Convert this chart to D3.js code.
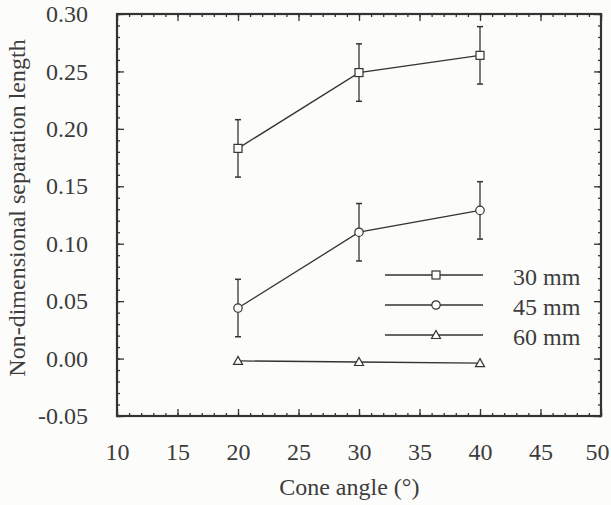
<!DOCTYPE html>
<html>
<head>
<meta charset="utf-8">
<script src="https://cdn.jsdelivr.net/npm/d3@7"></script>
</head>
<body style="margin:0;background:#fcfcfa">
<script>
// data
var angles = [20, 30, 40];
var len30 = [0.183, 0.249, 0.264];
var err30 = [0.025, 0.025, 0.025];
var len45 = [0.044, 0.110, 0.129];
var err45 = [0.025, 0.025, 0.025];
var len60 = [-0.002, -0.003, -0.004];
var seriesNames = ["30 mm", "45 mm", "60 mm"];
var xTicks = [10, 15, 20, 25, 30, 35, 40, 45, 50];
var yTicks = [-0.05, 0.00, 0.05, 0.10, 0.15, 0.20, 0.25, 0.30];

var W = 611, H = 505;
var margin = {top: 14, right: 10, bottom: 89, left: 117},
    width = W - margin.left - margin.right,
    height = H - margin.top - margin.bottom;

var x = d3.scaleLinear().domain([10, 50]).range([0, width]);
var y = d3.scaleLinear().domain([-0.05, 0.30]).range([height, 0]);

var ink = "#333";
var fontName = "Liberation Serif";

var root = d3.select("body").append("svg")
    .attr("width", W)
    .attr("height", H);

var svg = root.append("g")
    .attr("transform", "translate(" + margin.left + "," + margin.top + ")");

// minor ticks
var xMinor = d3.range(10, 50.5, 1);
var yMinor = d3.range(-5, 30.5, 1).map(function(d) { return d / 100; });

function tickAxis(axis, vals, size, labels) {
  var a = axis.tickValues(vals).tickSize(size);
  if (!labels) a.tickFormat("");
  return a;
}

svg.append("g").attr("transform", "translate(0," + height + ")")
    .call(tickAxis(d3.axisBottom(x), xMinor, -3, false));
svg.append("g")
    .call(tickAxis(d3.axisTop(x), xMinor, -3, false));
svg.append("g")
    .call(tickAxis(d3.axisLeft(y), yMinor, -3, false));
svg.append("g").attr("transform", "translate(" + width + ",0)")
    .call(tickAxis(d3.axisRight(y), yMinor, -3, false));

// major ticks with labels
svg.append("g").attr("class", "xaxis").attr("transform", "translate(0," + height + ")")
    .call(d3.axisBottom(x).tickValues(xTicks).tickSize(-7).tickPadding(27)
      .tickFormat(function(d) { return d; }));
svg.append("g").attr("class", "yaxis")
    .call(d3.axisLeft(y).tickValues(yTicks).tickSize(-7).tickPadding(29)
      .tickFormat(function(d) { return d.toFixed(2); }));
svg.append("g")
    .call(tickAxis(d3.axisTop(x), xTicks, -7, false));
svg.append("g").attr("transform", "translate(" + width + ",0)")
    .call(tickAxis(d3.axisRight(y), yTicks, -7, false));

svg.selectAll(".domain").remove();
svg.selectAll(".tick line").attr("stroke", ink).attr("stroke-width", 1.3);
svg.selectAll("g").attr("font-family", null).attr("font-size", null);
// the last x label sits at the picture's edge
svg.selectAll(".xaxis .tick text").filter(function(d) { return d === 50; }).attr("dx", -4);

// frame
svg.append("rect")
    .attr("width", width)
    .attr("height", height)
    .attr("fill", "none")
    .attr("stroke", ink)
    .attr("stroke-width", 2.2);

// axis titles
svg.append("text")
    .attr("x", x(29.2))
    .attr("y", height + 79)
    .attr("text-anchor", "middle")
    .text("Cone angle (°)");

svg.append("text")
    .attr("transform", "rotate(-90)")
    .attr("x", -194)
    .attr("y", -92)
    .attr("text-anchor", "middle")
    .text("Non-dimensional separation length");

// series
var series = [
  {name: seriesNames[0], vals: len30, err: err30, shape: "square"},
  {name: seriesNames[1], vals: len45, err: err45, shape: "circle"},
  {name: seriesNames[2], vals: len60, err: null, shape: "triangle"}
];

var line = d3.line()
    .x(function(d) { return x(d[0]); })
    .y(function(d) { return y(d[1]); });

function drawMarker(g, shape, cx, cy) {
  if (shape === "square") {
    g.append("rect").attr("x", cx - 4).attr("y", cy - 4).attr("width", 8).attr("height", 8);
  } else if (shape === "circle") {
    g.append("circle").attr("cx", cx).attr("cy", cy).attr("r", 4.2);
  } else {
    g.append("path").attr("d", "M" + cx + "," + (cy - 4.5) + "L" + (cx + 4.5) + "," + (cy + 3.5) + "L" + (cx - 4.5) + "," + (cy + 3.5) + "Z");
  }
}

series.forEach(function(s) {
  var pts = angles.map(function(a, i) { return [a, s.vals[i]]; });
  var g = svg.append("g");

  if (s.err) {
    angles.forEach(function(a, i) {
      var hi = y(s.vals[i] + s.err[i]), lo = y(s.vals[i] - s.err[i]), cx = x(a);
      g.append("line").attr("x1", cx).attr("x2", cx).attr("y1", hi).attr("y2", lo)
          .attr("stroke", ink).attr("stroke-width", 1.3);
      [hi, lo].forEach(function(yy) {
        g.append("line").attr("x1", cx - 3).attr("x2", cx + 3).attr("y1", yy).attr("y2", yy)
            .attr("stroke", ink).attr("stroke-width", 1.5);
      });
    });
  }

  g.append("path")
      .datum(pts)
      .attr("d", line)
      .attr("fill", "none")
      .attr("stroke", ink)
      .attr("stroke-width", 1.3);

  var mg = g.append("g").attr("fill", "#fcfcfa").attr("stroke", ink).attr("stroke-width", 1.2);
  pts.forEach(function(p) { drawMarker(mg, s.shape, x(p[0]), y(p[1])); });
});

// legend
var legend = svg.selectAll(".legend")
    .data(series)
  .enter().append("g")
    .attr("class", "legend")
    .attr("transform", function(d, i) { return "translate(0," + (261 + i * 30) + ")"; });

legend.append("line")
    .attr("x1", 268).attr("x2", 366)
    .attr("stroke", ink).attr("stroke-width", 1.3);

legend.each(function(d) {
  var g = d3.select(this).append("g").attr("fill", "#fcfcfa").attr("stroke", ink).attr("stroke-width", 1.2);
  drawMarker(g, d.shape, 319, 0);
});

legend.append("text")
    .attr("x", 396)
    .attr("y", 9.5)
    .text(function(d) { return d.name; });

// one font for every text
root.selectAll("text")
    .style("font-family", fontName)
    .style("font-size", "24px")
    .style("fill", "#3c3c3c");
</script>
</body>
</html>
